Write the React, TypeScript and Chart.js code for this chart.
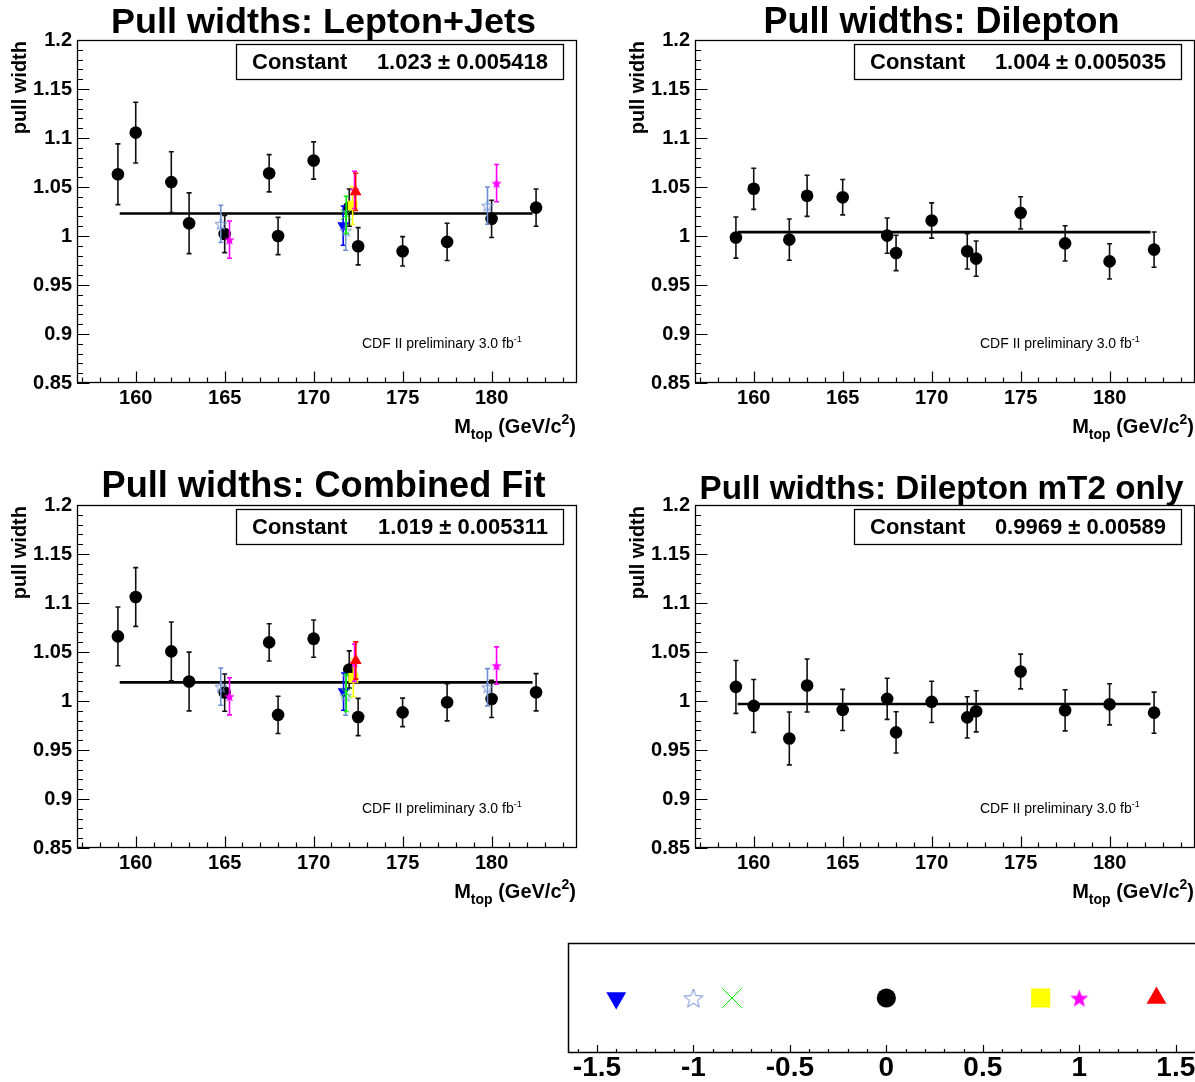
import React, { useEffect, useRef } from "react";
import { Chart, registerables } from "chart.js";

Chart.register(...registerables);

const FONT = "'Liberation Sans', Arial, Helvetica, sans-serif";

// ---------------- data ----------------
const massPoints = [159, 160, 162, 163, 165, 167.5, 168, 170, 172, 172.5, 175, 177.5, 180, 182.5];

const ljWidths = [1.063, 1.1055, 1.055, 1.013, 1.002, 1.064, 1.0, 1.077, 1.029, 0.9895, 0.9844, 0.994, 1.0175, 1.029];
const ljErrors = [0.031, 0.031, 0.031, 0.031, 0.019, 0.019, 0.019, 0.019, 0.019, 0.019, 0.015, 0.019, 0.019, 0.019];

const dlWidths = [0.9984, 1.0482, 0.9963, 1.041, 1.0396, 1.0004, 0.9827, 1.0158, 0.9844, 0.9769, 1.0236, 0.9925, 0.9741, 0.9861];
const dlErrors = [0.021, 0.021, 0.021, 0.021, 0.018, 0.018, 0.018, 0.018, 0.018, 0.018, 0.0165, 0.018, 0.018, 0.018];

const combWidths = [1.0659, 1.1061, 1.0506, 1.0199, 1.0086, 1.0598, 0.9858, 1.0636, 1.0321, 0.9837, 0.9884, 0.9987, 1.0021, 1.0089];
const combErrors = [0.03, 0.03, 0.03, 0.03, 0.019, 0.019, 0.019, 0.019, 0.019, 0.019, 0.0145, 0.019, 0.019, 0.019];

const mt2Widths = [1.0144, 0.995, 0.9618, 1.0158, 0.9909, 1.0022, 0.968, 0.9991, 0.9833, 0.9895, 1.0301, 0.9905, 0.9966, 0.9881];
const mt2Errors = [0.027, 0.027, 0.027, 0.027, 0.021, 0.021, 0.021, 0.021, 0.021, 0.021, 0.0177, 0.021, 0.021, 0.021];

// shifted samples, lepton+jets
const ljBlueX = [171.66], ljBlueY = [1.0106], ljBlueE = [0.02];
const ljOpenStarX = [164.78, 171.8, 179.77], ljOpenStarY = [1.0124, 1.0055, 1.031], ljOpenStarE = [0.019, 0.02, 0.019];
const ljGreenX = [171.83], ljGreenY = [1.0216], ljGreenE = [0.019];
const ljYellowX = [172.19], ljYellowY = [1.031], ljYellowE = [0.019];
const ljMagentaX = [165.27, 172.3, 180.28], ljMagentaY = [0.9963, 1.047, 1.054], ljMagentaE = [0.019, 0.019, 0.019];
const ljRedX = [172.36], ljRedY = [1.045], ljRedE = [0.019];

// shifted samples, combined
const cbBlueX = [171.68], cbBlueY = [1.0096], cbBlueE = [0.019];
const cbOpenStarX = [164.78, 171.8, 179.77], cbOpenStarY = [1.0147, 1.0055, 1.014], cbOpenStarE = [0.019, 0.02, 0.019];
const cbGreenX = [171.83], cbGreenY = [1.0083], cbGreenE = [0.019];
const cbYellowX = [172.23], cbYellowY = [1.0236], cbYellowE = [0.019];
const cbMagentaX = [165.27, 172.3, 180.28], cbMagentaY = [1.0048, 1.039, 1.0362], cbMagentaE = [0.019, 0.019, 0.019];
const cbRedX = [172.37], cbRedY = [1.0413], cbRedE = [0.019];

const fitConstants = [1.023, 1.004, 1.019, 0.9969];
const fitValueLabels = ["1.023", "1.004", "1.019", "0.9969"];
const fitErrorLabels = ["0.005418", "0.005035", "0.005311", "0.00589"];
const fitRange = [159.1, 182.3];

const panelTitles = [
  "Pull widths: Lepton+Jets",
  "Pull widths: Dilepton",
  "Pull widths: Combined Fit",
  "Pull widths: Dilepton mT2 only",
];

const yTickValues = [0.85, 0.9, 0.95, 1, 1.05, 1.1, 1.15, 1.2];
const xTickValues = [160, 165, 170, 175, 180];
const legendTickValues = [-1.5, -1, -0.5, 0, 0.5, 1, 1.5];
// legend marker positions (blue, open star, green, black, yellow, magenta, red)
const legendPositions = [-1.4, -1, -0.8, 0, 0.8, 1, 1.4];

// ---------------- styles ----------------
const X_MIN = 156.7, X_MAX = 184.8, Y_MIN = 0.85, Y_MAX = 1.2;
const PA = { left: 77, right: 577, top: 40, bottom: 383, height: 465 };

type Kind = "circle" | "triDown" | "starOpen" | "cross" | "square" | "starFill" | "triUp";
const STYLE: Record<string, { color: string; kind: Kind }> = {
  blue: { color: "#0000ff", kind: "triDown" },
  openStar: { color: "#6f8ed2", kind: "starOpen" },
  green: { color: "#00ee00", kind: "cross" },
  black: { color: "#000000", kind: "circle" },
  yellow: { color: "#ffff00", kind: "square" },
  magenta: { color: "#ff00ff", kind: "starFill" },
  red: { color: "#ff0000", kind: "triUp" },
};

// marker sizes: [plot, legend]
const SIZES: Record<Kind, [number, number]> = {
  circle: [6.3, 9.6],
  triDown: [6.8, 11.5],
  triUp: [6.8, 11.5],
  square: [7, 13.5],
  cross: [7.5, 14],
  starOpen: [14, 22],
  starFill: [13, 21],
};

function makeStar(size: number, color: string, filled: boolean) {
  const c = document.createElement("canvas");
  c.width = size;
  c.height = size;
  const g = c.getContext("2d")!;
  const cx = size / 2, cy = size / 2 + size * 0.05;
  const R = size / 2 - 1, r = R * 0.42;
  g.beginPath();
  for (let k = 0; k < 10; k++) {
    const a = -Math.PI / 2 + (k * Math.PI) / 5;
    const rr = k % 2 ? r : R;
    g.lineTo(cx + rr * Math.cos(a), cy + rr * Math.sin(a));
  }
  g.closePath();
  if (filled) {
    g.fillStyle = color;
    g.fill();
  } else {
    g.strokeStyle = color;
    g.lineWidth = 1;
    g.stroke();
  }
  return c;
}

function pointProps(key: string, legend: boolean) {
  const s = STYLE[key];
  const sz = SIZES[s.kind][legend ? 1 : 0];
  const base = { pointBackgroundColor: s.color, pointBorderColor: s.color, pointBorderWidth: 0, pointRotation: 0 };
  switch (s.kind) {
    case "circle":
      return { ...base, pointStyle: "circle", pointRadius: sz };
    case "triDown":
      return { ...base, pointStyle: "triangle", pointRadius: sz, pointRotation: 180 };
    case "triUp":
      return { ...base, pointStyle: "triangle", pointRadius: sz };
    case "square":
      return { ...base, pointStyle: "rect", pointRadius: sz };
    case "cross":
      return { ...base, pointStyle: "crossRot", pointRadius: sz, pointBorderWidth: 1 };
    case "starOpen":
      return { ...base, pointStyle: makeStar(Math.round(sz), s.color, false), pointRadius: sz / 2 };
    case "starFill":
      return { ...base, pointStyle: makeStar(Math.round(sz), s.color, true), pointRadius: sz / 2 };
  }
}

function series(key: string, xs: number[], ys: number[], es: number[]) {
  return {
    type: "scatter",
    data: xs.map((x, i) => ({ x, y: ys[i] })),
    errors: es,
    errorColor: STYLE[key].color === "#000000" ? "#111" : STYLE[key].color,
    showLine: false,
    ...pointProps(key, false),
  } as any;
}

function fitLine(c: number) {
  return {
    type: "line",
    data: [
      { x: fitRange[0], y: c },
      { x: fitRange[1], y: c },
    ],
    borderColor: "#000",
    borderWidth: 2.6,
    pointRadius: 0,
    fill: false,
  } as any;
}

const errorBarPlugin = {
  id: "errorBars",
  beforeDatasetDraw(chart: any, args: any) {
    const ds = chart.data.datasets[args.index];
    if (!ds.errors) return;
    const ctx = chart.ctx;
    const xs = chart.scales.x, ys = chart.scales.y;
    ctx.save();
    ctx.strokeStyle = ds.errorColor;
    ctx.lineWidth = 1.6;
    ds.data.forEach((p: any, i: number) => {
      const e = ds.errors[i];
      const px = xs.getPixelForValue(p.x);
      const t = ys.getPixelForValue(p.y + e);
      const b = ys.getPixelForValue(p.y - e);
      ctx.beginPath();
      ctx.moveTo(px, t);
      ctx.lineTo(px, b);
      ctx.moveTo(px - 2.5, t);
      ctx.lineTo(px + 2.5, t);
      ctx.moveTo(px - 2.5, b);
      ctx.lineTo(px + 2.5, b);
      ctx.stroke();
    });
    ctx.restore();
  },
};

function fitFont(ctx: CanvasRenderingContext2D, text: string, width: number, weight: string) {
  ctx.font = `${weight} 36px ${FONT}`;
  const w = ctx.measureText(text).width;
  return (36 * width) / w;
}

function drawRich(ctx: CanvasRenderingContext2D, parts: [string, string, number][], x: number, y: number, align: "left" | "right") {
  let total = 0;
  parts.forEach(([t, f]) => {
    ctx.font = f;
    total += ctx.measureText(t).width;
  });
  let cx = align === "right" ? x - total : x;
  ctx.textAlign = "left";
  ctx.textBaseline = "alphabetic";
  parts.forEach(([t, f, dy]) => {
    ctx.font = f;
    ctx.fillText(t, cx, y + dy);
    cx += ctx.measureText(t).width;
  });
}

function decorPlugin(idx: number, titleWidth: number, titleBase: number) {
  return {
    id: "decor" + idx,
    afterDraw(chart: any) {
      const ctx: CanvasRenderingContext2D = chart.ctx;
      const a = chart.chartArea;
      const xs = chart.scales.x, ys = chart.scales.y;
      ctx.save();
      ctx.fillStyle = "#000";
      ctx.strokeStyle = "#000";
      // frame
      ctx.lineWidth = 1.3;
      ctx.strokeRect(a.left + 0.5, a.top + 0.5, a.right - a.left - 1, a.bottom - a.top - 1);
      // y ticks
      ctx.lineWidth = 1.2;
      ctx.beginPath();
      for (let k = 85; k <= 120; k++) {
        const v = k / 100;
        const py = Math.round(ys.getPixelForValue(v)) + 0.5;
        const len = k % 5 === 0 ? 12.5 : 6;
        ctx.moveTo(a.left, py);
        ctx.lineTo(a.left + len, py);
      }
      // x ticks
      for (let m = 157; m <= 184; m++) {
        const px = Math.round(xs.getPixelForValue(m)) + 0.5;
        const len = m % 5 === 0 ? 11.5 : 5.5;
        ctx.moveTo(px, a.bottom);
        ctx.lineTo(px, a.bottom - len);
      }
      ctx.stroke();

      // title
      const tSize = fitFont(ctx, panelTitles[idx], titleWidth, "bold");
      ctx.font = `bold ${tSize}px ${FONT}`;
      ctx.textAlign = "center";
      ctx.textBaseline = "alphabetic";
      ctx.fillText(panelTitles[idx], 323.5, titleBase);

      // stat box
      ctx.fillStyle = "#fff";
      ctx.fillRect(236, 44, 328, 35);
      ctx.lineWidth = 1.3;
      ctx.strokeRect(236.5, 44.5, 327, 35);
      ctx.fillStyle = "#000";
      ctx.font = `bold 22px ${FONT}`;
      ctx.textAlign = "left";
      ctx.fillText("Constant", 252, 69);
      ctx.textAlign = "right";
      ctx.fillText(`${fitValueLabels[idx]} \u00b1 ${fitErrorLabels[idx]}`, 548, 69);

      // preliminary label
      drawRich(
        ctx,
        [
          ["CDF II preliminary 3.0 fb", `14px ${FONT}`, 0],
          ["-1", `9px ${FONT}`, -6],
        ],
        362,
        348,
        "left"
      );

      // x title
      drawRich(
        ctx,
        [
          ["M", `bold 20px ${FONT}`, 0],
          ["top", `bold 14px ${FONT}`, 6],
          [" (GeV/c", `bold 20px ${FONT}`, 0],
          ["2", `bold 14px ${FONT}`, -9],
          [")", `bold 20px ${FONT}`, 0],
        ],
        576,
        433,
        "right"
      );

      // y title
      ctx.save();
      ctx.translate(26, 41);
      ctx.rotate(-Math.PI / 2);
      ctx.font = `bold 20px ${FONT}`;
      ctx.textAlign = "right";
      ctx.textBaseline = "alphabetic";
      ctx.fillText("pull width", 0, 0);
      ctx.restore();

      ctx.restore();
    },
  };
}

const tickFont = { family: FONT, size: 20, weight: "bold" as const };

function zeroPad(s: any) {
  s.paddingLeft = 0;
  s.paddingRight = 0;
  s.paddingTop = 0;
  s.paddingBottom = 0;
}

function panelConfig(idx: number, width: number, datasets: any[], titleWidth: number, titleBase: number): any {
  return {
    type: "scatter",
    data: { datasets },
    options: {
      responsive: false,
      animation: false,
      events: [],
      layout: { autoPadding: false, padding: { left: 0, top: PA.top, right: width - PA.right, bottom: 0 } },
      plugins: { legend: { display: false }, tooltip: { enabled: false }, title: { display: false } },
      scales: {
        x: {
          type: "linear",
          min: X_MIN,
          max: X_MAX,
          grid: { display: false, drawTicks: false },
          border: { display: false },
          ticks: { font: tickFont, color: "#000", padding: 3, autoSkip: false, maxRotation: 0, callback: (v: number) => String(v) },
          afterBuildTicks: (s: any) => {
            s.ticks = xTickValues.map((v) => ({ value: v }));
          },
          afterFit: (s: any) => {
            s.height = PA.height - PA.bottom;
            zeroPad(s);
          },
        },
        y: {
          type: "linear",
          min: Y_MIN,
          max: Y_MAX,
          grid: { display: false, drawTicks: false },
          border: { display: false },
          ticks: { font: tickFont, color: "#000", padding: 5, autoSkip: false, callback: (v: number) => String(Number(v.toFixed(3))) },
          afterBuildTicks: (s: any) => {
            s.ticks = yTickValues.map((v) => ({ value: v }));
          },
          afterFit: (s: any) => {
            s.width = PA.left;
            zeroPad(s);
          },
        },
      },
    },
    plugins: [errorBarPlugin, decorPlugin(idx, titleWidth, titleBase)],
  };
}

function legendConfig(): any {
  const keys = ["blue", "openStar", "green", "black", "yellow", "magenta", "red"];
  const datasets = keys.map((k, i) => ({
    type: "scatter",
    data: [{ x: legendPositions[i], y: 0.5 }],
    showLine: false,
    ...pointProps(k, true),
  }));
  return {
    type: "scatter",
    data: { datasets },
    options: {
      responsive: false,
      animation: false,
      events: [],
      layout: { autoPadding: false, padding: { left: 8, top: 8, right: 3, bottom: 0 } },
      plugins: { legend: { display: false }, tooltip: { enabled: false } },
      scales: {
        x: {
          type: "linear",
          min: -1.65,
          max: 1.61,
          grid: { display: false, drawTicks: false },
          border: { display: false },
          ticks: { font: { family: FONT, size: 28, weight: "bold", lineHeight: 1 }, color: "#000", padding: 1, autoSkip: false, maxRotation: 0, callback: (v: number) => String(v) },
          afterBuildTicks: (s: any) => {
            s.ticks = legendTickValues.map((v) => ({ value: v }));
          },
          afterFit: (s: any) => {
            s.height = 29;
            zeroPad(s);
          },
        },
        y: { type: "linear", min: 0, max: 1, display: false },
      },
    },
    plugins: [
      {
        id: "legendDecor",
        afterDraw(chart: any) {
          const ctx: CanvasRenderingContext2D = chart.ctx;
          const a = chart.chartArea;
          const xs = chart.scales.x;
          ctx.save();
          ctx.strokeStyle = "#000";
          ctx.lineWidth = 1.5;
          ctx.strokeRect(a.left + 0.5, a.top + 0.5, a.right - a.left - 1, a.bottom - a.top - 1);
          ctx.lineWidth = 1.2;
          ctx.beginPath();
          for (let k = -16; k <= 16; k++) {
            const px = Math.round(xs.getPixelForValue(k / 10)) + 0.5;
            const len = k % 5 === 0 ? 8 : 4;
            ctx.moveTo(px, a.bottom);
            ctx.lineTo(px, a.bottom - len);
          }
          ctx.stroke();
          ctx.restore();
        },
      },
    ],
  };
}

function buildPanels() {
  const blackLJ = series("black", massPoints, ljWidths, ljErrors);
  const blackDL = series("black", massPoints, dlWidths, dlErrors);
  const blackCB = series("black", massPoints, combWidths, combErrors);
  const blackMT = series("black", massPoints, mt2Widths, mt2Errors);
  const ljShift = [
    series("red", ljRedX, ljRedY, ljRedE),
    series("magenta", ljMagentaX, ljMagentaY, ljMagentaE),
    series("yellow", ljYellowX, ljYellowY, ljYellowE),
    series("green", ljGreenX, ljGreenY, ljGreenE),
    series("openStar", ljOpenStarX, ljOpenStarY, ljOpenStarE),
    series("blue", ljBlueX, ljBlueY, ljBlueE),
  ];
  const cbShift = [
    series("red", cbRedX, cbRedY, cbRedE),
    series("magenta", cbMagentaX, cbMagentaY, cbMagentaE),
    series("yellow", cbYellowX, cbYellowY, cbYellowE),
    series("green", cbGreenX, cbGreenY, cbGreenE),
    series("openStar", cbOpenStarX, cbOpenStarY, cbOpenStarE),
    series("blue", cbBlueX, cbBlueY, cbBlueE),
  ];
  return [
    panelConfig(0, 597, [...ljShift, blackLJ, fitLine(fitConstants[0])], 425, 33),
    panelConfig(1, 577, [blackDL, fitLine(fitConstants[1])], 356, 33),
    panelConfig(2, 597, [...cbShift, blackCB, fitLine(fitConstants[2])], 444, 32),
    panelConfig(3, 577, [blackMT, fitLine(fitConstants[3])], 484, 34),
    legendConfig(),
  ];
}

const LAYOUT = [
  { left: 0, top: 0, width: 597, height: 465 },
  { left: 618, top: 0, width: 577, height: 465 },
  { left: 0, top: 465, width: 597, height: 465 },
  { left: 618, top: 465, width: 577, height: 465 },
  { left: 560, top: 935, width: 640, height: 147 },
];

export default function App() {
  const r0 = useRef<HTMLCanvasElement>(null);
  const r1 = useRef<HTMLCanvasElement>(null);
  const r2 = useRef<HTMLCanvasElement>(null);
  const r3 = useRef<HTMLCanvasElement>(null);
  const r4 = useRef<HTMLCanvasElement>(null);
  const refs = [r0, r1, r2, r3, r4];
  useEffect(() => {
    const cfgs = buildPanels();
    const charts = cfgs.map((cfg, i) => new Chart(refs[i].current as HTMLCanvasElement, cfg));
    return () => charts.forEach((c) => c.destroy());
  }, []);
  return (
    <div style={{ position: "absolute", left: 0, top: 0, width: 1195, height: 1082, background: "#fff", overflow: "hidden" }}>
      {LAYOUT.map((l, i) => (
        <canvas
          key={i}
          ref={refs[i]}
          width={l.width}
          height={l.height}
          style={{ position: "absolute", left: l.left, top: l.top, width: l.width, height: l.height }}
        />
      ))}
    </div>
  );
}
